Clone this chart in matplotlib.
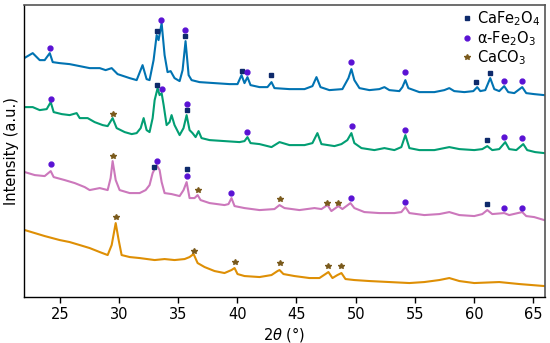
import numpy as np
import matplotlib
matplotlib.use('Agg')
import matplotlib.pyplot as plt
from matplotlib.lines import Line2D

## XRD patterns (2theta, intensity a.u.), top to bottom
tt_blue = [22.0, 22.72, 23.31, 23.73, 24.16, 24.41, 25.0, 25.84, 26.69, 27.53, 28.38, 28.88, 29.39, 29.89,
           30.91, 31.5, 32.0, 32.34, 32.59, 32.93, 33.19, 33.35, 33.61, 33.86, 34.11, 34.37, 34.7, 35.13,
           35.38, 35.63, 35.89, 36.14, 36.81, 38.08, 39.35, 40.02, 40.36, 40.61, 40.86, 41.12, 41.88, 42.55,
           42.89, 43.14, 44.41, 45.68, 46.35, 46.69, 47.03, 47.78, 48.88, 49.39, 49.64, 49.89, 50.32, 51.16,
           52.0, 52.43, 52.85, 53.69, 53.95, 54.2, 54.45, 55.38, 56.65, 57.49, 57.91, 58.33, 59.18, 59.94,
           60.27, 60.53, 60.95, 61.37, 61.71, 62.13, 62.55, 62.89, 63.4, 64.07, 64.41, 65.08, 65.93]
int_blue = [239, 244, 237, 237, 244, 235, 234, 233, 231, 229, 229, 227, 229, 223,
            219, 217, 232, 218, 217, 237, 262, 257, 274, 242, 225, 226, 219, 216,
            227, 256, 222, 217, 215, 214, 213, 213, 222, 214, 220, 212, 210, 210,
            215, 209, 208, 208, 211, 220, 210, 207, 208, 219, 228, 217, 209, 207,
            208, 210, 207, 206, 210, 217, 209, 205, 205, 207, 209, 206, 205, 206,
            210, 206, 207, 219, 208, 206, 211, 205, 204, 210, 204, 203, 202]

tt_green = [22.0, 22.72, 23.31, 23.9, 24.24, 24.49, 25.17, 25.84, 26.43, 26.69, 27.36, 27.95, 28.63, 29.05,
            29.47, 29.81, 30.49, 31.08, 31.5, 31.84, 32.09, 32.34, 32.59, 32.85, 33.02, 33.27, 33.44, 33.61,
            33.78, 34.03, 34.28, 34.45, 34.7, 35.13, 35.46, 35.72, 35.97, 36.22, 36.48, 36.73, 36.98, 37.66,
            38.92, 40.19, 40.61, 40.86, 41.12, 41.88, 42.89, 43.57, 44.41, 45.68, 46.35, 46.77, 47.11, 48.21,
            48.8, 49.3, 49.64, 49.89, 50.49, 51.58, 52.43, 53.27, 53.86, 54.2, 54.54, 55.38, 56.65, 57.91,
            58.76, 60.02, 60.7, 61.12, 61.54, 62.13, 62.64, 62.97, 63.57, 64.16, 64.49, 65.16, 65.93]
int_green = [190, 190, 187, 188, 195, 185, 183, 182, 184, 179, 179, 175, 172, 171,
             179, 169, 165, 163, 164, 169, 179, 167, 165, 179, 197, 209, 202, 204,
             192, 172, 175, 182, 172, 162, 169, 182, 167, 164, 160, 166, 159, 157,
             156, 155, 156, 160, 154, 153, 150, 155, 152, 152, 154, 164, 153, 151,
             153, 157, 164, 154, 149, 147, 149, 147, 150, 162, 149, 147, 147, 150,
             148, 147, 148, 151, 147, 148, 155, 148, 147, 153, 147, 145, 144]

tt_pink = [22.05, 22.89, 23.73, 24.24, 24.49, 25.42, 26.27, 27.11, 27.53, 28.38, 29.05, 29.3, 29.47, 29.73,
           30.06, 30.91, 31.75, 32.26, 32.59, 32.85, 33.19, 33.44, 33.61, 33.86, 34.45, 35.13, 35.46, 35.72,
           35.97, 36.39, 36.65, 36.9, 37.66, 38.92, 39.26, 39.51, 39.77, 40.61, 41.88, 43.14, 43.57, 43.99,
           45.25, 46.52, 47.11, 47.62, 47.95, 48.54, 48.88, 49.56, 49.89, 50.74, 52.0, 53.27, 53.86, 54.2,
           54.54, 55.8, 57.07, 57.91, 58.76, 60.02, 60.7, 61.12, 61.54, 62.55, 62.97, 64.07, 64.41, 65.08,
           65.93]
int_pink = [125, 122, 121, 126, 120, 117, 114, 110, 107, 109, 107, 119, 136, 117,
            107, 104, 104, 107, 112, 124, 132, 127, 115, 104, 103, 101, 107, 115,
            99, 99, 102, 97, 94, 92, 93, 99, 91, 89, 87, 88, 92, 89,
            87, 89, 88, 92, 86, 91, 88, 94, 89, 85, 84, 84, 85, 90,
            84, 82, 83, 85, 82, 81, 83, 87, 83, 84, 82, 85, 81, 80,
            77]

tt_orange = [22.05, 22.89, 23.73, 25.0, 25.84, 26.69, 27.53, 28.38, 29.05, 29.39, 29.73, 29.98, 30.23, 30.91,
             31.75, 33.02, 33.86, 34.7, 35.55, 35.97, 36.31, 36.65, 37.24, 38.08, 38.92, 39.51, 39.77, 40.02,
             40.61, 41.88, 42.89, 43.4, 43.57, 43.9, 44.83, 46.1, 46.94, 47.45, 47.7, 48.04, 48.46, 48.8,
             49.14, 49.89, 51.16, 52.85, 54.54, 55.8, 57.07, 57.91, 58.76, 60.02, 62.13, 63.82, 65.93]
int_orange = [67, 64, 61, 57, 55, 52, 49, 45, 42, 52, 74, 57, 42, 40,
              39, 37, 38, 37, 38, 40, 43, 34, 30, 26, 24, 27, 29, 23,
              21, 20, 22, 26, 27, 23, 21, 19, 19, 23, 25, 19, 22, 24,
              18, 17, 16, 15, 14, 15, 17, 19, 16, 14, 15, 13, 11]

## phase markers (2theta, height) placed above the reflections
cafe2o4_tt = [33.19, 35.55, 40.36, 42.89, 60.19, 61.37,
              33.19, 35.72, 61.12,
              32.93, 35.72, 61.12]
cafe2o4_h = [266, 261, 226, 222, 215, 224,
             212, 187, 157,
             130, 128, 93]
fe2o3_tt = [24.16, 33.52, 35.55, 40.86, 49.64, 54.2, 62.55, 64.07,
            24.24, 33.61, 35.72, 40.86, 49.72, 54.2, 62.55, 64.07,
            24.24, 33.19, 35.72, 39.51, 49.64, 54.2, 62.55, 64.07]
fe2o3_h = [249, 277, 267, 225, 235, 225, 216, 216,
           198, 208, 193, 165, 171, 167, 160, 159,
           133, 136, 121, 104, 99, 95, 89, 89]
caco3_tt = [29.47, 29.47, 36.65, 43.57, 47.62, 48.54,
            29.73, 36.31, 39.77, 43.57, 47.7, 48.8]
caco3_h = [183, 141, 107, 98, 94, 94,
           80, 46, 35, 34, 31, 31]

line_colors = ['#0173b2', '#029e73', '#cc78bc', '#de8f05']
c_sq = '#0e2a6b'
c_ci = '#5a12d4'
c_st = '#7a5a1c'

fig = plt.figure(figsize=(5.5, 3.43), dpi=100)
ax = fig.add_axes([0.044, 0.134, 0.947, 0.851])

for tt, inten, c in zip([tt_blue, tt_green, tt_pink, tt_orange],
                        [int_blue, int_green, int_pink, int_orange], line_colors):
    ax.plot(tt, inten, color=c, lw=1.5)

ax.plot(cafe2o4_tt, cafe2o4_h, 's', color=c_sq, ms=3.2, ls='none')
ax.plot(fe2o3_tt, fe2o3_h, 'o', color=c_ci, ms=3.5, ls='none')
ax.plot(caco3_tt, caco3_h, '*', color=c_st, ms=4, ls='none')

handles = [Line2D([], [], marker='s', color=c_sq, ms=3.2, ls='none'),
           Line2D([], [], marker='o', color=c_ci, ms=3.5, ls='none'),
           Line2D([], [], marker='*', color=c_st, ms=4, ls='none')]
ax.legend(handles, [r'CaFe$_2$O$_4$', r'α-Fe$_2$O$_3$', r'CaCO$_3$'],
          loc='upper right', frameon=False, fontsize=10.5, handlelength=0.6,
          handletextpad=0.4, labelspacing=0.05, borderaxespad=0.2, borderpad=0.1)

ax.set_xlim(22, 66)
ax.set_ylim(0, 292)
ax.set_xticks([25, 30, 35, 40, 45, 50, 55, 60, 65])
ax.set_yticks([])
ax.tick_params(axis='x', labelsize=10.5, length=4, width=1)
ax.set_xlabel(r'$2\theta$ (°)', fontsize=10.5, labelpad=2)
ax.set_ylabel('Intensity (a.u.)', fontsize=10.5, labelpad=4)
for s in ['top', 'right']:
    ax.spines[s].set_color('#555555')
    ax.spines[s].set_linewidth(1.2)
for s in ['left', 'bottom']:
    ax.spines[s].set_linewidth(1.0)

fig.savefig('out.png', dpi=100)
